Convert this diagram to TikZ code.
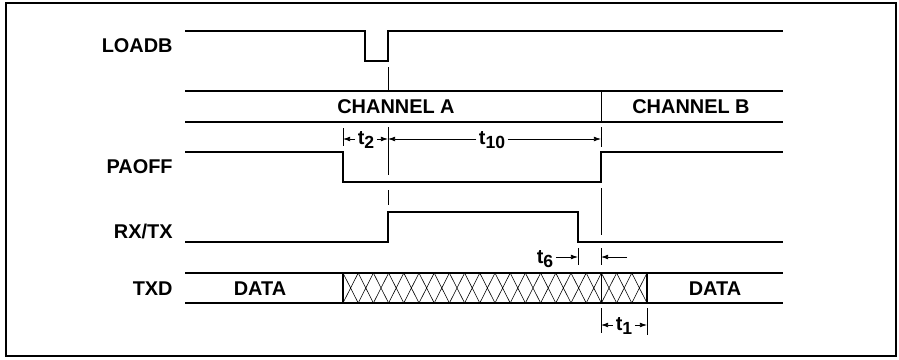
\documentclass[tikz,border=0pt]{standalone}
\usepackage{fontspec}
\setmainfont{Liberation Sans}
\usetikzlibrary{arrows.meta}
\newcommand{\tsub}[2]{#1\raisebox{-0.45ex}{\fontsize{15}{15}\selectfont #2}}

\begin{document}
\begin{tikzpicture}[x=0.03cm, y=-0.03cm, every node/.style={font=\fontsize{17}{19}\selectfont\bfseries, inner sep=1pt}, >={Latex[length=6pt,width=4pt]},
	sig/.style={line width=1.8pt}, thinln/.style={line width=0.6pt}, hatch/.style={line width=0.5pt},
	signame/.style={anchor=east}, dimlab/.style={inner sep=2pt}, dim/.style={thinln,->}]
	\useasboundingbox (0,0) rectangle (899,359);
	\draw[line width=1.8pt] (6,3) rectangle (896,356);
	% signal names
	\node[signame] (loadb) at (174,46) {LOADB};
	\node[signame] (paoff) at (174,167) {PAOFF};
	\node[signame] (rxtx) at (174,231) {RX/TX};
	\node[signame] (txd) at (174,289) {TXD};
	% waveforms
	\draw[sig] (185,31) -- (365,31) -- (365,61) -- (388,61) -- (388,31) -- (783,31);
	\draw[sig] (185,91) -- (783,91) (185,122) -- (783,122);
	\draw[thinln] (601,91) -- (601,122);
	\node (cha) at (396,107) {CHANNEL A};
	\node (chb) at (691,107) {CHANNEL B};
	\draw[sig] (185,152) -- (343,152) -- (343,182) -- (601,182) -- (601,152) -- (783,152);
	\draw[sig] (185,242) -- (388,242) -- (388,212) -- (578,212) -- (578,242) -- (783,242);
	\foreach \i in {0,...,19}
		\draw[hatch] (343+\i*15.2,273) -- (358.2+\i*15.2,303) (358.2+\i*15.2,273) -- (343+\i*15.2,303);
	\draw[sig] (185,273) -- (783,273) (185,303) -- (783,303);
	\draw[sig] (343,273) -- (343,303) (647,273) -- (647,303);
	\node (d1) at (260,289) {DATA};
	\node (d2) at (715,289) {DATA};
	% reference lines
	\draw[thinln] (388,67) -- (388,91) (388,127) -- (388,175) (388,190) -- (388,205);
	\draw[thinln] (343,128) -- (343,146);
	\draw[thinln] (601,127) -- (601,147) (601,188) -- (601,235) (601,248) -- (601,265) (601,273) -- (601,303) (601,308) -- (601,333);
	\draw[thinln] (578,248) -- (578,265) (647,308) -- (647,335);
	% timing
	\coordinate (t2a) at (343,139); \coordinate (t2b) at (388,139);
	\coordinate (t10b) at (601,139);
	\coordinate (t6a) at (578,257); \coordinate (t6b) at (601,257);
	\coordinate (t1a) at (601,325); \coordinate (t1b) at (647,325);
	\node[dimlab] (t2) at (366,140) {\tsub{t}{2}};
	\node[dimlab] (t10) at (492,140) {\tsub{t}{10}};
	\node[dimlab] (t6) at (545,259) {\tsub{t}{6}};
	\coordinate (t6r) at (627,257);
	\node[dimlab] (t1) at (624,326) {\tsub{t}{1}};
	\draw[dim] (t2.west |- t2a) -- (t2a);
	\draw[dim] (t2.east |- t2b) -- (t2b);
	\draw[dim] (t10.west |- t2b) -- (t2b);
	\draw[dim] (t10.east |- t10b) -- (t10b);
	\draw[dim] (t6.east |- t6a) -- (t6a);
	\draw[dim] (t6r) -- (t6b);
	\draw[dim] (t1.west |- t1a) -- (t1a);
	\draw[dim] (t1.east |- t1b) -- (t1b);
\end{tikzpicture}
\end{document}
